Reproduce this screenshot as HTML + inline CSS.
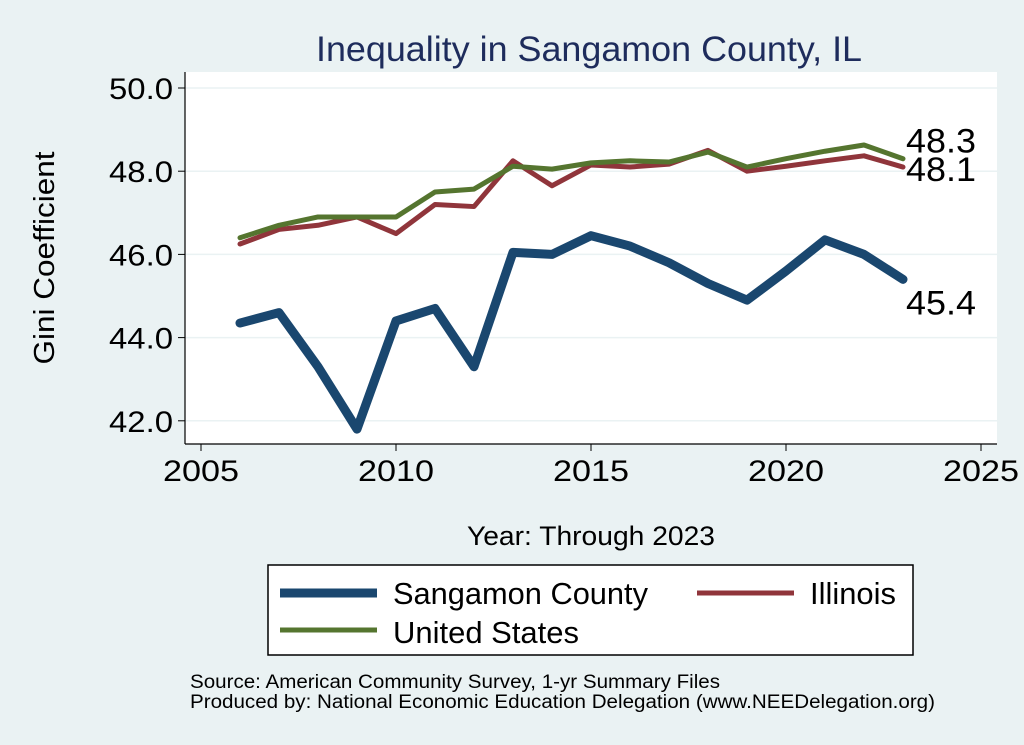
<!DOCTYPE html>
<html><head><meta charset="utf-8"><style>
body{margin:0;background:#eaf2f3;}
svg{display:block;font-family:"Liberation Sans",Arial,sans-serif;}
</style></head><body>
<svg width="1024" height="745" viewBox="0 0 1024 745">
<rect x="0" y="0" width="1024" height="745" fill="#eaf2f3"/>
<text x="589" y="61" text-anchor="middle" font-size="35" textLength="546" lengthAdjust="spacingAndGlyphs" fill="#1e2c5c">Inequality in Sangamon County, IL</text>
<rect x="185" y="72" width="812" height="372" fill="#ffffff"/>
<g id="grid"></g>
<g id="axes"></g>
<g id="series"></g>
<text x="591" y="545" text-anchor="middle" font-size="27" textLength="248" lengthAdjust="spacingAndGlyphs" fill="#000">Year: Through 2023</text>
<text transform="translate(54,258) rotate(-90)" text-anchor="middle" font-size="29" textLength="213" lengthAdjust="spacingAndGlyphs" fill="#000">Gini Coefficient</text>
<g>
<rect x="268" y="565" width="645" height="90" fill="#fff" stroke="#000" stroke-width="1.5"/>
<g>
<line x1="280" y1="593" x2="377" y2="593" stroke="#1a476f" stroke-width="9"/>
<text x="393" y="604" font-size="31" textLength="255" lengthAdjust="spacingAndGlyphs" fill="#000">Sangamon County</text></g>
<g>
<line x1="697" y1="593" x2="794" y2="593" stroke="#90353b" stroke-width="5"/>
<text x="810" y="604" font-size="31" textLength="86" lengthAdjust="spacingAndGlyphs" fill="#000">Illinois</text></g>
<g>
<line x1="280" y1="630" x2="377" y2="630" stroke="#55752f" stroke-width="5"/>
<text x="393" y="643" font-size="31" textLength="186" lengthAdjust="spacingAndGlyphs" fill="#000">United States</text></g>
</g>
<text x="190" y="688" font-size="19" textLength="530" lengthAdjust="spacingAndGlyphs" fill="#000">Source: American Community Survey, 1-yr Summary Files</text>
<text x="190" y="708" font-size="19" textLength="745" lengthAdjust="spacingAndGlyphs" fill="#000">Produced by: National Economic Education Delegation (www.NEEDelegation.org)</text>
</svg>
<script>
const years=[2006,2007,2008,2009,2010,2011,2012,2013,2014,2015,2016,2017,2018,2019,2020,2021,2022,2023];
const sangamon=[44.35,44.6,43.3,41.8,44.4,44.7,43.3,46.05,46.0,46.45,46.2,45.8,45.3,44.9,45.6,46.35,46.0,45.4];
const illinois=[46.25,46.6,46.7,46.9,46.5,47.2,47.15,48.25,47.65,48.15,48.1,48.17,48.5,48.0,48.12,48.25,48.37,48.1];
const unitedStates=[46.4,46.7,46.9,46.9,46.9,47.5,47.57,48.12,48.05,48.2,48.25,48.22,48.46,48.1,48.3,48.48,48.63,48.3];
const yTicks=[42,44,46,48,50];
const xTicks=[2005,2010,2015,2020,2025];
const NS='http://www.w3.org/2000/svg';
function X(v){return 201+(v-2005)*39;}
function Y(v){return 88+(50-v)*41.6;}
function mk(tag,attrs,parent){const e=document.createElementNS(NS,tag);for(const k in attrs)e.setAttribute(k,attrs[k]);parent.appendChild(e);return e;}
const grid=document.getElementById('grid'),axes=document.getElementById('axes'),ser=document.getElementById('series');
yTicks.forEach(t=>{
 const g=mk('line',{x1:185,x2:997,y1:Y(t),y2:Y(t),stroke:'#eaf2f3','stroke-width':1.5},grid);
 
 
 const tk=mk('line',{x1:178,x2:185,y1:Y(t),y2:Y(t),stroke:'#000','stroke-width':1},axes);
 
 
 const tx=mk('text',{x:173,y:Y(t)+11,'text-anchor':'end','font-size':30,textLength:64,lengthAdjust:'spacingAndGlyphs',fill:'#000'},axes);
 tx.textContent=t.toFixed(1);
 
 
});
xTicks.forEach(t=>{
 const tk=mk('line',{x1:X(t),x2:X(t),y1:444,y2:451,stroke:'#000','stroke-width':1},axes);
 
 
 const tx=mk('text',{x:X(t),y:481,'text-anchor':'middle','font-size':30,textLength:76,lengthAdjust:'spacingAndGlyphs',fill:'#000'},axes);
 tx.textContent=t;
 
 
});
const ya=mk('line',{x1:185,x2:185,y1:72,y2:444,stroke:'#000','stroke-width':1.2},axes);


const xa=mk('line',{x1:185,x2:997,y1:444,y2:444,stroke:'#000','stroke-width':1.2},axes);


function line(vals,color,w,name){
 const p=mk('polyline',{points:vals.map((v,i)=>X(years[i])+','+Y(v)).join(' '),fill:'none',stroke:color,'stroke-width':w,'stroke-linejoin':'round','stroke-linecap':'round'},ser);
 
 
}
line(sangamon,'#1a476f',9,'line-sangamon');
line(illinois,'#90353b',5,'line-illinois');
line(unitedStates,'#55752f',5,'line-united-states');
function lab(v,dy,name){
 const t=mk('text',{x:X(2023)+3,y:Y(v)+dy,'font-size':34,textLength:70,lengthAdjust:'spacingAndGlyphs',fill:'#000'},ser);
 t.textContent=v.toFixed(1);
 
 
}
lab(unitedStates[unitedStates.length-1],-6,'label-united-states');
lab(illinois[illinois.length-1],14,'label-illinois');
lab(sangamon[sangamon.length-1],35,'label-sangamon');
</script>
</body></html>
